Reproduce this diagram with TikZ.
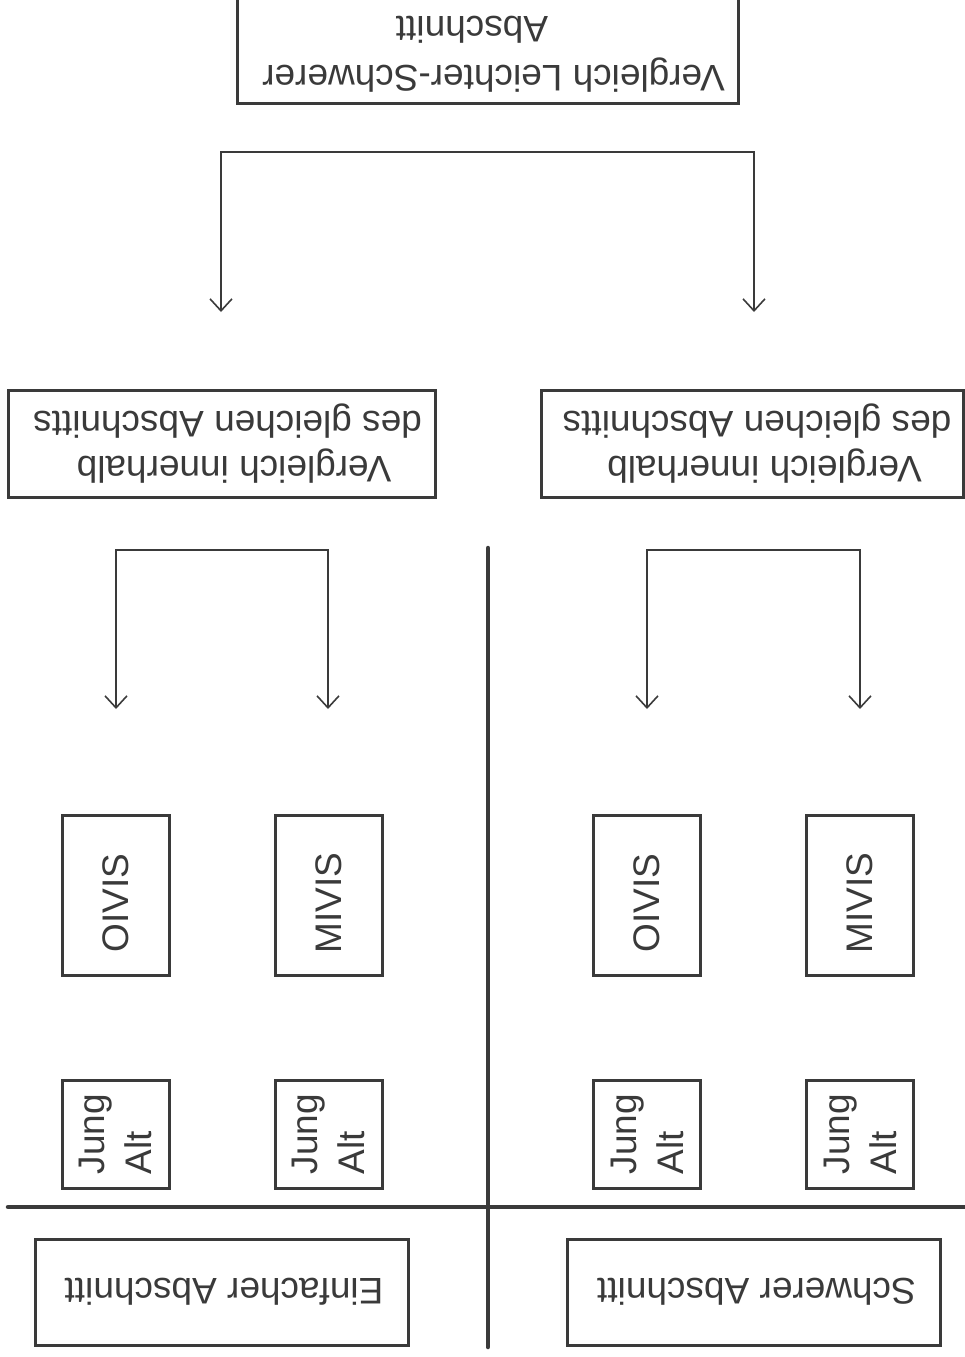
\documentclass[tikz,border=0pt]{standalone}
\usepackage{fontspec}
\setmainfont{Liberation Sans}
\usetikzlibrary{arrows.meta}
\definecolor{ink}{RGB}{58,58,58}
\begin{document}
\begin{tikzpicture}[x=1pt,y=-1pt,
  frame/.style={draw=ink, line width=3pt, inner sep=0pt},
  lbl/.style={text=ink, align=center, inner sep=0pt, font=\fontsize{37}{45}\selectfont},
  flipbox/.style={frame, lbl, rotate=180},
  sidebox/.style={frame, lbl, rotate=90},
  conn/.style={draw=ink, line width=1.6pt, >={Straight Barb[length=12pt,width=22pt]}, <->},
  divider/.style={draw=ink, line width=4.5pt, line cap=round}]
\useasboundingbox (0,0) rectangle (965,1357);
\clip (0,0) rectangle (965,1357);

% top box (cut by the upper edge)
\node[frame, minimum width=501pt, minimum height=123pt] (top) at (487.5,41.5) {};
\node[lbl, rotate=180, font=\fontsize{37}{49}\selectfont] (topText) at (487.5,54.5)
  {Vergleich Leichter-Schwerer\hspace*{12pt}\\\hspace*{31pt}Abschnitt};

% first bracket
\coordinate (a1) at (221,312);
\coordinate (t1) at (221,152);
\coordinate (t2) at (754,152);
\coordinate (a2) at (754,312);
\draw[conn] (a1) -- (t1) -- (t2) -- (a2);

% comparison boxes
\node[flipbox, minimum width=427pt, minimum height=107pt] (cmpL) at (222,443.5)
  {Vergleich innerhalb\hspace*{24pt}\\des gleichen Abschnitts\hspace*{11pt}};
\node[flipbox, minimum width=422pt, minimum height=107pt] (cmpR) at (752.5,443.5)
  {Vergleich innerhalb\hspace*{24pt}\\des gleichen Abschnitts\hspace*{9pt}};

% second brackets
\coordinate (b1) at (116,709);
\coordinate (u1) at (116,550);
\coordinate (u2) at (328,550);
\coordinate (b2) at (328,709);
\draw[conn] (b1) -- (u1) -- (u2) -- (b2);
\coordinate (c1) at (647,709);
\coordinate (w1) at (647,550);
\coordinate (w2) at (860,550);
\coordinate (c2) at (860,709);
\draw[conn] (c1) -- (w1) -- (w2) -- (c2);

% dividers
\coordinate (v1) at (488,548);
\coordinate (v2) at (488,1347);
\coordinate (h1) at (8,1207);
\coordinate (h2) at (970,1207);
\draw[divider] (v1) -- (v2);
\draw[divider] (h1) -- (h2);

% OIVIS / MIVIS
\node[sidebox, minimum width=160pt, minimum height=107pt] (oL) at (115.5,895) {OIVIS\hspace*{16pt}};
\node[sidebox, minimum width=160pt, minimum height=107pt] (mL) at (328.5,895) {MIVIS\hspace*{16pt}};
\node[sidebox, minimum width=160pt, minimum height=107pt] (oR) at (647,895) {OIVIS\hspace*{16pt}};
\node[sidebox, minimum width=160pt, minimum height=107pt] (mR) at (860,895) {MIVIS\hspace*{16pt}};

% Jung / Alt
\node[sidebox, align=left, font=\fontsize{37}{47}\selectfont, minimum width=108pt, minimum height=107pt] (jL1) at (115.5,1134) {Jung\\Alt};
\node[sidebox, align=left, font=\fontsize{37}{47}\selectfont, minimum width=108pt, minimum height=107pt] (jL2) at (328.5,1134) {Jung\\Alt};
\node[sidebox, align=left, font=\fontsize{37}{47}\selectfont, minimum width=108pt, minimum height=107pt] (jR1) at (647,1134) {Jung\\Alt};
\node[sidebox, align=left, font=\fontsize{37}{47}\selectfont, minimum width=108pt, minimum height=107pt] (jR2) at (860,1134) {Jung\\Alt};

% section boxes
\node[flipbox, minimum width=373pt, minimum height=106pt] (easy) at (222,1292) {Einfacher Abschnitt\hspace*{4pt}};
\node[flipbox, minimum width=373pt, minimum height=106pt] (hard) at (753.5,1292) {Schwerer Abschnitt\hspace*{6pt}};
\end{tikzpicture}
\end{document}
